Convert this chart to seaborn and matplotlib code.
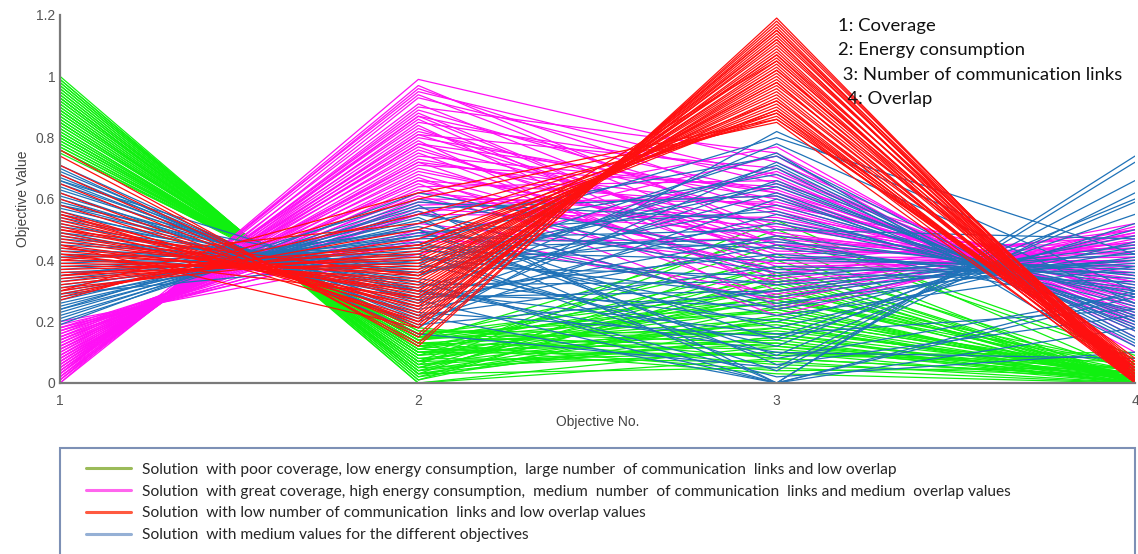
import numpy as np
import pandas as pd
import matplotlib
matplotlib.use("Agg")
import matplotlib.pyplot as plt
from matplotlib.lines import Line2D
from matplotlib.patches import Rectangle
import seaborn as sns

objectives = [1, 2, 3, 4]
y_ticks = [0, 0.2, 0.4, 0.6, 0.8, 1.0, 1.2]
y_tick_labels = ["0", "0.2", "0.4", "0.6", "0.8", "1", "1.2"]
objective_names = ["1: Coverage", "2: Energy consumption",
                   " 3: Number of communication links", "  4: Overlap"]
group_labels = [
    "Solution  with poor coverage, low energy consumption,  large number  of communication  links and low overlap",
    "Solution  with great coverage, high energy consumption,  medium  number  of communication  links and medium  overlap values",
    "Solution  with low number of communication  links and low overlap values",
    "Solution  with medium values for the different objectives",
]

# Green group: poor coverage, low energy, many links, low overlap
green_obj1 = [1.00,0.99,0.99,0.98,0.97,0.97,0.96,0.95,0.95,0.94,
              0.93,0.93,0.92,0.91,0.91,0.90,0.89,0.89,0.88,0.87,
              0.87,0.86,0.85,0.85,0.84,0.83,0.83,0.82,0.81,0.81,
              0.80,0.80,0.79,0.78,0.78,0.77,0.76,0.76,0.75,
              0.98,0.96,0.94,0.92,0.90,0.88,0.86,0.84,0.82,0.80,0.79,
              0.93,0.89,0.85,0.81,0.77]
green_obj2 = [0.00,0.01,0.00,0.02,0.02,0.03,0.03,0.04,0.03,0.05,
              0.05,0.04,0.06,0.07,0.06,0.07,0.08,0.07,0.09,0.09,
              0.10,0.10,0.11,0.10,0.12,0.12,0.11,0.13,0.14,0.13,
              0.14,0.15,0.15,0.16,0.15,0.16,0.17,0.16,0.18,
              0.01,0.03,0.04,0.06,0.07,0.09,0.10,0.12,0.13,0.14,0.15,
              0.05,0.08,0.11,0.14,0.17]
green_obj3 = [0.12,0.25,0.08,0.33,0.18,0.42,0.05,0.22,0.15,0.29,
              0.10,0.36,0.20,0.53,0.13,0.27,0.07,0.31,0.17,0.45,
              0.24,0.09,0.38,0.14,0.21,0.03,0.28,0.11,0.34,0.19,
              0.48,0.16,0.26,0.06,0.40,0.23,0.13,0.30,0.08,0.35,
              0.21,0.15,0.50,0.10,0.27,0.18,0.32,0.04,0.24,0.12,
              0.38,0.20,0.09,0.28,0.16]
green_obj4 = [0.00,0.01,0.02,0.00,0.03,0.01,0.00,0.04,0.02,0.00,
              0.05,0.01,0.00,0.03,0.02,0.06,0.00,0.01,0.04,0.00,
              0.02,0.07,0.01,0.00,0.03,0.00,0.05,0.02,0.01,0.00,
              0.08,0.03,0.00,0.02,0.04,0.01,0.00,0.06,0.02,0.00,
              0.03,0.01,0.09,0.00,0.04,0.02,0.00,0.05,0.01,0.03,
              0.00,0.02,0.10,0.01,0.00]

# Magenta group: great coverage, high energy, medium links, medium overlap
magenta_obj1 = [0.00,0.00,0.01,0.01,0.02,0.02,0.03,0.03,0.04,0.04,
                0.05,0.05,0.06,0.06,0.07,0.07,0.08,0.08,0.09,0.09,
                0.10,0.10,0.11,0.11,0.12,0.12,0.13,0.13,0.14,0.14,
                0.15,0.15,0.16,0.16,0.17,0.17,0.18,0.18,0.19,0.20,
                0.02,0.05,0.08,0.11,0.14,0.17,0.03,0.06,0.09,0.12,
                0.15,0.18,0.01,0.04,0.07]
magenta_obj2 = [0.99,0.93,0.96,0.90,0.94,0.87,0.91,0.85,0.88,0.82,
                0.86,0.80,0.84,0.78,0.81,0.76,0.79,0.73,0.77,0.71,
                0.75,0.69,0.72,0.67,0.70,0.64,0.68,0.62,0.65,0.60,
                0.63,0.57,0.61,0.55,0.58,0.52,0.55,0.49,0.46,0.42,
                0.89,0.83,0.74,0.66,0.59,0.50,0.95,0.81,0.72,0.66,
                0.56,0.47,0.97,0.87,0.78]
magenta_obj3 = [0.72,0.65,0.58,0.75,0.50,0.62,0.45,0.68,0.40,0.55,
                0.35,0.60,0.30,0.48,0.70,0.42,0.25,0.52,0.38,0.64,
                0.32,0.46,0.57,0.28,0.44,0.66,0.36,0.53,0.22,0.59,
                0.41,0.49,0.33,0.77,0.61,0.39,0.54,0.27,0.47,0.69,
                0.56,0.43,0.63,0.37,0.51,0.29,0.67,0.45,0.34,0.58,
                0.24,0.74,0.48,0.40,0.62]
magenta_obj4 = [0.20,0.30,0.35,0.15,0.42,0.28,0.45,0.22,0.48,0.33,
                0.50,0.26,0.52,0.38,0.18,0.44,0.47,0.31,0.40,0.24,
                0.46,0.36,0.27,0.49,0.39,0.21,0.43,0.32,0.51,0.29,
                0.41,0.34,0.45,0.12,0.25,0.40,0.30,0.48,0.37,0.19,
                0.28,0.42,0.23,0.44,0.33,0.50,0.17,0.38,0.46,0.26,
                0.49,0.10,0.35,0.41,0.22]

# Red group: low number of links, low overlap
red_obj1 = [0.76,0.74,0.71,0.68,0.65,0.62,0.60,0.58,0.56,0.55,
            0.54,0.53,0.52,0.51,0.50,0.49,0.48,0.47,0.46,0.45,
            0.44,0.43,0.42,0.41,0.40,0.39,0.38,0.37,0.36,0.35,
            0.34,0.33,0.32,0.31,0.30,0.29,0.28,0.27,0.50,0.45,
            0.40,0.35,0.30,0.55,0.42]
red_obj2 = [0.12,0.13,0.15,0.16,0.18,0.19,0.20,0.22,0.21,0.24,
            0.23,0.25,0.26,0.25,0.28,0.27,0.29,0.30,0.31,0.30,
            0.32,0.33,0.35,0.34,0.36,0.37,0.38,0.40,0.39,0.41,
            0.42,0.44,0.45,0.43,0.47,0.50,0.55,0.60,0.35,0.18,
            0.52,0.45,0.62,0.20,0.28]
red_obj3 = [1.19,1.18,1.17,1.16,1.15,1.14,1.13,1.12,1.11,1.10,
            1.09,1.08,1.07,1.07,1.06,1.05,1.04,1.03,1.02,1.01,
            1.00,0.99,0.98,0.98,0.97,0.96,0.95,0.94,0.93,0.92,
            0.91,0.90,0.89,0.89,0.88,0.87,0.86,0.85,1.05,1.15,
            0.88,0.92,0.86,1.12,1.02]
red_obj4 = [0.00,0.01,0.02,0.00,0.03,0.01,0.04,0.00,0.02,0.05,
            0.01,0.03,0.00,0.06,0.02,0.04,0.01,0.00,0.07,0.03,
            0.02,0.05,0.00,0.01,0.08,0.03,0.02,0.04,0.00,0.06,
            0.01,0.03,0.05,0.02,0.00,0.04,0.07,0.01,0.03,0.00,
            0.05,0.02,0.06,0.01,0.04]

# Blue group: medium values
blue_obj1 = [0.71,0.70,0.69,0.68,0.67,0.66,0.65,0.64,0.63,0.62,
             0.61,0.60,0.59,0.58,0.57,0.56,0.55,0.54,0.53,0.52,
             0.51,0.50,0.49,0.48,0.47,0.46,0.45,0.44,0.43,0.42,
             0.41,0.40,0.39,0.38,0.37,0.36,0.35,0.34,0.33,0.32,
             0.31,0.30,0.29,0.28,0.27,0.26,0.25,0.24,0.23,0.22,
             0.21,0.20,0.19,0.66,0.58,0.49,0.41,0.35,0.29,0.24]
blue_obj2 = [0.18,0.16,0.20,0.19,0.22,0.21,0.24,0.23,0.26,0.22,
             0.27,0.25,0.29,0.28,0.30,0.27,0.32,0.31,0.33,0.30,
             0.35,0.34,0.36,0.33,0.38,0.37,0.39,0.36,0.41,0.40,
             0.42,0.39,0.44,0.43,0.45,0.42,0.47,0.46,0.48,0.45,
             0.50,0.49,0.51,0.48,0.53,0.52,0.55,0.54,0.57,0.56,
             0.59,0.58,0.62,0.30,0.35,0.28,0.44,0.50,0.40,0.60]
blue_obj3 = [0.82,0.05,0.60,0.30,0.00,0.72,0.45,0.15,0.66,0.38,
             0.00,0.55,0.25,0.78,0.10,0.48,0.33,0.62,0.02,0.42,
             0.70,0.20,0.52,0.00,0.35,0.75,0.12,0.58,0.28,0.46,
             0.04,0.64,0.22,0.40,0.80,0.08,0.50,0.18,0.68,0.32,
             0.00,0.56,0.26,0.44,0.14,0.74,0.36,0.06,0.61,0.24,
             0.53,0.00,0.41,0.16,0.71,0.30,0.47,0.09,0.65,0.37]
blue_obj4 = [0.30,0.66,0.22,0.45,0.74,0.14,0.30,0.55,0.18,0.36,
             0.18,0.25,0.48,0.26,0.08,0.32,0.40,0.20,0.10,0.34,
             0.12,0.50,0.28,0.28,0.42,0.05,0.60,0.26,0.44,0.35,
             0.62,0.21,0.38,0.38,0.42,0.29,0.47,0.46,0.17,0.39,
             0.30,0.23,0.41,0.31,0.52,0.15,0.33,0.22,0.19,0.43,
             0.29,0.72,0.37,0.24,0.13,0.40,0.24,0.59,0.20,0.36]

groups = {
    "green": [green_obj1, green_obj2, green_obj3, green_obj4],
    "magenta": [magenta_obj1, magenta_obj2, magenta_obj3, magenta_obj4],
    "blue": [blue_obj1, blue_obj2, blue_obj3, blue_obj4],
    "red": [red_obj1, red_obj2, red_obj3, red_obj4],
}

rows = []
for gname, cols in groups.items():
    for i in range(len(cols[0])):
        for k, obj in enumerate(objectives):
            rows.append({"group": gname, "line": f"{gname}_{i}",
                         "objective": obj, "value": cols[k][i]})
df = pd.DataFrame(rows)

line_palette = {"green": "#10f010", "magenta": "#ff10f5",
                "blue": "#1f72b8", "red": "#ff1010"}
legend_colors = ["#9bbb59", "#ff66ee", "#ff5a40", "#95b0d5"]

sns.set_style("white")
plt.rcParams["font.family"] = ["Liberation Sans", "DejaVu Sans"]

fig = plt.figure(figsize=(11.38, 5.54), dpi=100)
ax = fig.add_axes([60/1138, (554-383)/554, (1135-60)/1138, (383-15)/554])

sns.lineplot(data=df, x="objective", y="value", hue="group", units="line",
             estimator=None, palette=line_palette,
             hue_order=["green", "magenta", "blue", "red"],
             linewidth=0.9, legend=False, ax=ax)

ax.set_xlim(1, 4)
ax.set_ylim(0, 1.2)
ax.set_xticks(objectives)
ax.set_xticklabels([str(o) for o in objectives])
ax.set_yticks(y_ticks)
ax.set_yticklabels(y_tick_labels)
for s in ["top", "right"]:
    ax.spines[s].set_visible(False)
for s in ["left", "bottom"]:
    ax.spines[s].set_color("#7a7a7a")
    ax.spines[s].set_linewidth(1.6)
ax.tick_params(axis="both", direction="in", length=5, width=1.2,
               color="#555555", labelsize=10, labelcolor="#555555")
ax.tick_params(axis="x", pad=8)
ax.set_xlabel("Objective No.", fontsize=10, color="#444444", labelpad=5)
ax.set_ylabel("Objective Value", fontsize=10, color="#444444", labelpad=4)

# objective name key
y_pos = [26, 50, 75, 99]
for name, yp in zip(objective_names, y_pos):
    fig.text(838/1138, 1 - yp/554, name, fontsize=13.3, family=["Lato", "DejaVu Sans"],
             color="#111111", va="center", ha="left")

# legend box
fig.patches.append(Rectangle((60/1138, -0.05), (1135-60)/1138, 0.05 + (554-448)/554,
                             transform=fig.transFigure, fill=False,
                             edgecolor="#7d90b5", linewidth=1.5))
handles = [Line2D([0], [0], color=c, lw=2.2) for c in legend_colors]
fig.legend(handles, group_labels, loc="upper left",
           bbox_to_anchor=(75/1138, 1 - 452/554), frameon=False,
           prop={"family": ["Lato", "DejaVu Sans"], "size": 11.2},
           handlelength=2.9, handletextpad=0.7, labelspacing=0.5,
           borderpad=0.2)

fig.savefig("out.png", dpi=100)
